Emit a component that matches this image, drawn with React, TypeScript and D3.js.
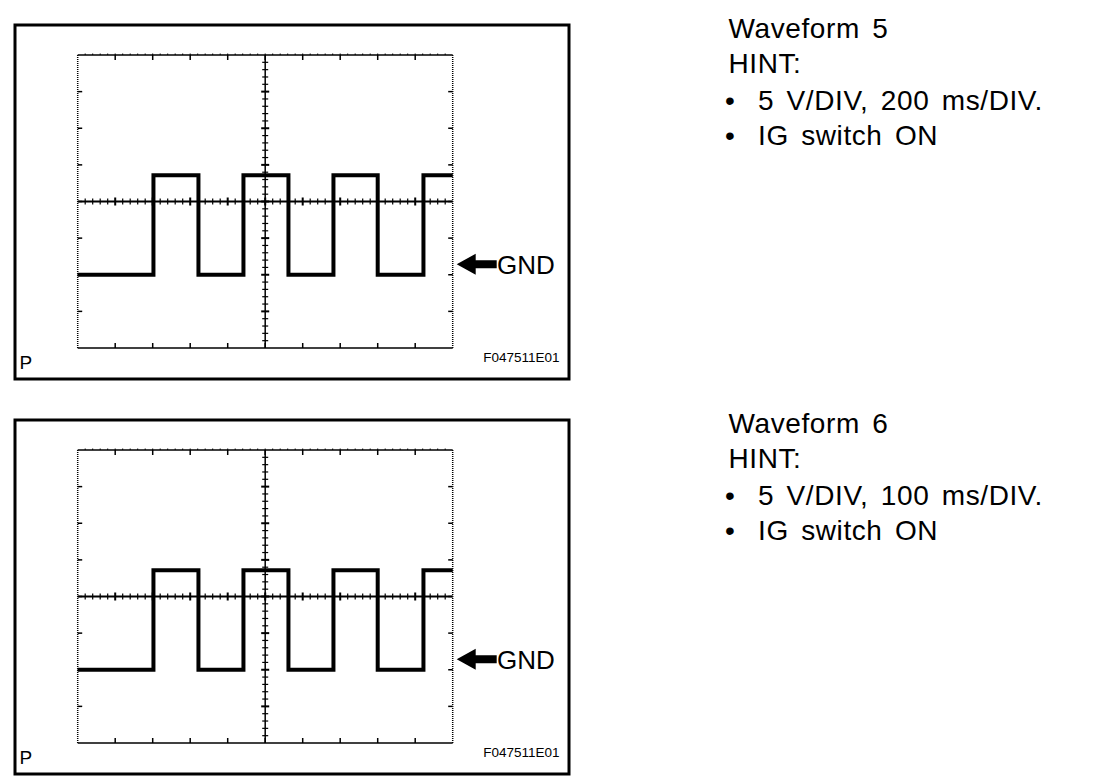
import React from "react";
import * as d3 from "d3";

// scope grid: 10 x 8 divisions, 5 minor ticks per division
const divsX = 10;
const divsY = 8;
const minorPerDiv = 5;
const gndDiv = -2; // GND marker sits 2 divisions below centre

const titles = ["Waveform 5", "Waveform 6"];
const hints = [
  ["5 V/DIV, 200 ms/DIV.", "IG switch ON"],
  ["5 V/DIV, 100 ms/DIV.", "IG switch ON"],
];
const msPerDiv = [200, 100];
const voltsPerDiv = [5, 5];
const figureCode = "F047511E01";

// edge times (ms) and level held after each edge (V above GND)
const wave5Times = [0, 404, 644, 884, 1124, 1364, 1600, 1844, 2000];
const wave5Volts = [0, 13.6, 0, 13.6, 0, 13.6, 0, 13.6, 13.6];
const wave6Times = [0, 202, 322, 442, 562, 682, 800, 922, 1000];
const wave6Volts = [0, 13.6, 0, 13.6, 0, 13.6, 0, 13.6, 13.6];

const waves = [
  { times: wave5Times, volts: wave5Volts },
  { times: wave6Times, volts: wave6Volts },
];

const FONT = "'Liberation Sans', Arial, Helvetica, sans-serif";

const Scope = ({ idx, offsetY }) => {
  const x = d3.scaleLinear().domain([0, divsX]).range([77.7, 452.7]);
  const y = d3.scaleLinear().domain([-divsY / 2, divsY / 2]).range([348, 55]);
  const xt = d3.scaleLinear().domain([0, msPerDiv[idx] * divsX]).range(x.range());
  const yv = v => y(v / voltsPerDiv[idx] + gndDiv);

  const w = waves[idx];
  const pts = w.times.map((t, i) => [t, w.volts[i]]);
  const line = d3.line()
    .x(d => xt(d[0]))
    .y(d => yv(d[1]))
    .curve(d3.curveStepAfter);

  const majorX = d3.range(1, divsX);
  const majorY = d3.range(-divsY / 2 + 1, divsY / 2);
  const minorX = d3.range(1, divsX * minorPerDiv).map(i => i / minorPerDiv);
  const minorY = d3.range(-divsY / 2 * minorPerDiv + 1, divsY / 2 * minorPerDiv).map(i => i / minorPerDiv);

  const [x0, x1] = x.range();
  const [yb, yt] = y.range();
  const cx = x(divsX / 2);
  const cy = y(0);
  const gy = y(gndDiv);

  return (
    <g transform={`translate(0, ${offsetY})`}>
      <rect x={15} y={25} width={554} height={354} fill="white" stroke="black" strokeWidth={3} />

      {/* frame */}
      <line x1={x0} x2={x1} y1={yt} y2={yt} stroke="black" strokeWidth={1.5} />
      <line x1={x0} x2={x1} y1={yb} y2={yb} stroke="black" strokeWidth={1.5} />
      <line x1={x0} x2={x0} y1={yt} y2={yb} stroke="black" strokeWidth={1.5} strokeDasharray="1 1" />
      <line x1={x1} x2={x1} y1={yt} y2={yb} stroke="black" strokeWidth={1.5} strokeDasharray="1 1" />
      {minorX.map((d, i) => (
        <line key={"tm" + i} x1={x(d)} x2={x(d)} y1={yt - 1.5} y2={yt} stroke="black" strokeWidth={1} />
      ))}
      {majorX.map((d, i) => (
        <g key={"fx" + i}>
          <line x1={x(d)} x2={x(d)} y1={yt} y2={yt + 5} stroke="black" strokeWidth={1.5} />
          <line x1={x(d)} x2={x(d)} y1={yb} y2={yb - 5} stroke="black" strokeWidth={1.5} />
        </g>
      ))}
      {majorY.map((d, i) => (
        <g key={"fy" + i}>
          <line x1={x0} x2={x0 + 4.5} y1={y(d)} y2={y(d)} stroke="black" strokeWidth={1.5} />
          <line x1={x1} x2={x1 - 4.5} y1={y(d)} y2={y(d)} stroke="black" strokeWidth={1.5} />
        </g>
      ))}

      {/* centre axes */}
      <line x1={x0} x2={x1} y1={cy} y2={cy} stroke="black" strokeWidth={2} />
      <line x1={cx} x2={cx} y1={yt} y2={yb} stroke="black" strokeWidth={1.5} />
      {minorX.map((d, i) => {
        const major = Math.abs(d - Math.round(d)) < 1e-6;
        return (
          <line key={"cx" + i} x1={x(d)} x2={x(d)} y1={cy - (major ? 4 : 3)} y2={cy + (major ? 4 : 3)}
            stroke="black" strokeWidth={major ? 2 : 1.2} />
        );
      })}
      {minorY.map((d, i) => {
        const major = Math.abs(d - Math.round(d)) < 1e-6;
        return (
          <line key={"cy" + i} x1={cx - (major ? 4 : 3)} x2={cx + (major ? 4 : 3)} y1={y(d)} y2={y(d)}
            stroke="black" strokeWidth={major ? 2 : 1.2} />
        );
      })}

      {/* signal */}
      <path d={line(pts)} fill="none" stroke="black" strokeWidth={4} strokeLinejoin="miter" />

      {/* GND marker */}
      <path
        d={`M ${x1 + 4} ${gy - 10.5} L ${x1 + 23} ${gy - 21} L ${x1 + 23} ${gy - 14.5} L ${x1 + 44} ${gy - 14.5} L ${x1 + 44} ${gy - 6.5} L ${x1 + 23} ${gy - 6.5} L ${x1 + 23} ${gy} Z`}
        fill="black" />
      <text x={497} y={gy - 0.5} fontFamily={FONT} fontSize={26} fill="black">GND</text>

      <text x={19.5} y={368.5} fontFamily={FONT} fontSize={19} fill="black">P</text>
      <text x={559.5} y={361.7} textAnchor="end" fontFamily={FONT} fontSize={13.5} fill="black">{figureCode}</text>

      {/* hint text */}
      <g fontFamily={FONT} fontSize={28} fill="black" letterSpacing={0.6} wordSpacing={4}>
        <text x={728.5} y={37.7}>{titles[idx]}</text>
        <text x={728.5} y={73.3}>HINT:</text>
        {hints[idx].map((h, i) => (
          <g key={i}>
            <text x={725} y={110 + i * 35}>•</text>
            <text x={758} y={110 + i * 35}>{h}</text>
          </g>
        ))}
      </g>
    </g>
  );
};

const App = () => (
  <svg width={1120} height={784} style={{ position: "absolute", left: 0, top: 0, background: "white" }}>
    <Scope idx={0} offsetY={0} />
    <Scope idx={1} offsetY={395} />
  </svg>
);

export default App;
